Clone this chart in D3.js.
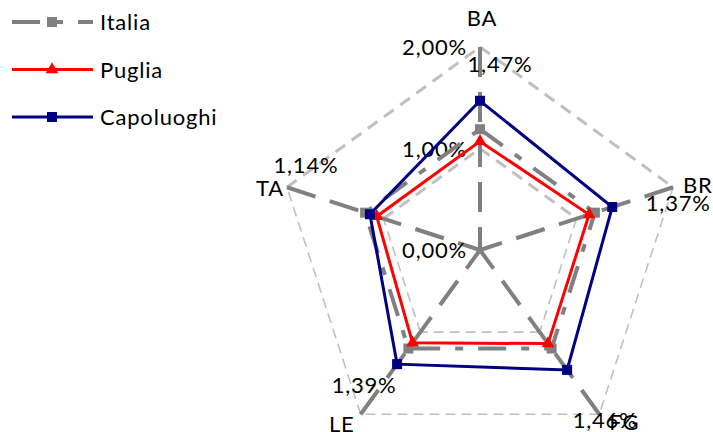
<!DOCTYPE html>
<html>
<head>
<meta charset="utf-8">
<script src="https://cdn.jsdelivr.net/npm/d3@7"></script>
<style>
  html, body { margin: 0; padding: 0; background: #fff; }
  svg { display: block; font-family: Lato, "Open Sans", sans-serif; }
  text { fill: #000; font-size: 22px; letter-spacing: 0.8px; }
</style>
</head>
<body>
<svg id="chart" width="713" height="432"></svg>
<script>
// categories (provinces) and series values, in %
const axes = ["BA", "BR", "FG", "LE", "TA"];
const italia = [1.19, 1.19, 1.20, 1.20, 1.19];
const puglia = [1.07, 1.13, 1.14, 1.13, 1.07];
const capoluoghi = [1.47, 1.37, 1.46, 1.39, 1.14];
const ticks = [0, 1, 2];
const tickLabels = ["0,00%", "1,00%", "2,00%"];
const seriesNames = ["Italia", "Puglia", "Capoluoghi"];

const cx = 480, cy = 250;
const svg = d3.select("#chart");
const g = svg.append("g").attr("transform", "translate(" + cx + "," + cy + ")");

const r = d3.scaleLinear().domain([0, 2]).range([0, 203]);
const angle = d3.scalePoint().domain(axes).range([0, 2 * Math.PI * 4 / 5]);

// point on the radar for category + value
function pt(cat, v) {
  const a = angle(cat) - Math.PI / 2;
  return [Math.cos(a) * r(v), Math.sin(a) * r(v)];
}

const fmt = v => d3.format(".2f")(v).replace(".", ",") + "%";

// grid pentagons (1% and 2%), each edge drawn on its own
ticks.filter(t => t > 0).forEach(t => {
  axes.forEach((c, i) => {
    const next = axes[(i + 1) % axes.length];
    const a = pt(c, t), b = pt(next, t);
    const upper = (i === 0 || i === 4);
    g.append("line")
      .attr("x1", a[0]).attr("y1", a[1])
      .attr("x2", b[0]).attr("y2", b[1])
      .attr("stroke", "#c0c0c0")
      .attr("stroke-width", upper ? 3 : 1.6)
      .attr("stroke-dasharray", upper ? "12,8" : "10,6");
  });
});

// spokes, drawn from the outer vertex to the centre
g.selectAll(".spoke")
  .data(axes)
  .enter().append("line")
  .attr("class", "spoke")
  .attr("x1", d => pt(d, 2)[0]).attr("y1", d => pt(d, 2)[1])
  .attr("x2", 0).attr("y2", 0)
  .attr("stroke", "#808080")
  .attr("stroke-width", 4)
  .attr("stroke-dasharray", "30,15");

// tick labels along BA axis
g.selectAll(".tick")
  .data(ticks)
  .enter().append("text")
  .attr("class", "tick")
  .attr("x", -13)
  .attr("y", d => -r(d) + 8)
  .attr("text-anchor", "end")
  .text((d, i) => tickLabels[i]);

// category labels
const catNudge = {
  BA: [2, -21, "middle"],
  BR: [10, 6, "start"],
  FG: [25, 16, "middle"],
  LE: [-19, 18, "middle"],
  TA: [-3, 9, "end"]
};
g.selectAll(".cat")
  .data(axes)
  .enter().append("text")
  .attr("class", "cat")
  .attr("x", d => pt(d, 2)[0] + catNudge[d][0])
  .attr("y", d => pt(d, 2)[1] + catNudge[d][1])
  .attr("text-anchor", d => catNudge[d][2])
  .text(d => d);

const series = [
  {name: seriesNames[0], values: italia, color: "#808080", width: 4, dash: "28,15,8,15", marker: "square"},
  {name: seriesNames[1], values: puglia, color: "#ff0000", width: 3, dash: null, marker: "triangle"},
  {name: seriesNames[2], values: capoluoghi, color: "#000080", width: 3, dash: null, marker: "square"}
];

const line = d3.line().curve(d3.curveLinearClosed);

function marker(sel, s) {
  if (s.marker === "square") {
    sel.append("rect").attr("x", -5).attr("y", -5).attr("width", 10).attr("height", 10)
      .attr("fill", s.color);
  } else {
    sel.append("path").attr("d", d3.symbol().type(d3.symbolTriangle).size(70)())
      .attr("fill", s.color);
  }
}

series.forEach(s => {
  const pts = axes.map((c, i) => pt(c, s.values[i]));
  g.append("path")
    .attr("d", line(pts))
    .attr("fill", "none")
    .attr("stroke", s.color)
    .attr("stroke-width", s.width)
    .attr("stroke-dasharray", s.dash);
  pts.forEach(p => {
    marker(g.append("g").attr("transform", "translate(" + p[0] + "," + p[1] + ")"), s);
  });
});

// data labels for Capoluoghi
const labelNudge = [[20, -37], [66, -4], [38, 50], [-33, 21], [-64, -49]];
g.selectAll(".dl")
  .data(capoluoghi)
  .enter().append("text")
  .attr("class", "dl")
  .attr("x", (d, i) => pt(axes[i], d)[0] + labelNudge[i][0])
  .attr("y", (d, i) => pt(axes[i], d)[1] + labelNudge[i][1] + 8)
  .attr("text-anchor", "middle")
  .text(d => fmt(d));

// legend
const leg = svg.append("g").attr("class", "legend");
series.forEach((s, i) => {
  const y = 22 + i * 47.5;
  const row = leg.append("g").attr("transform", "translate(0," + y + ")");
  row.append("line")
    .attr("x1", 12).attr("x2", 93).attr("y1", 0).attr("y2", 0)
    .attr("stroke", s.color)
    .attr("stroke-width", s.width)
    .attr("stroke-dasharray", s.dash);
  marker(row.append("g").attr("transform", "translate(52,0)"), s);
  row.append("text").attr("x", 100).attr("y", 8).text(s.name);
});
</script>
</body>
</html>
